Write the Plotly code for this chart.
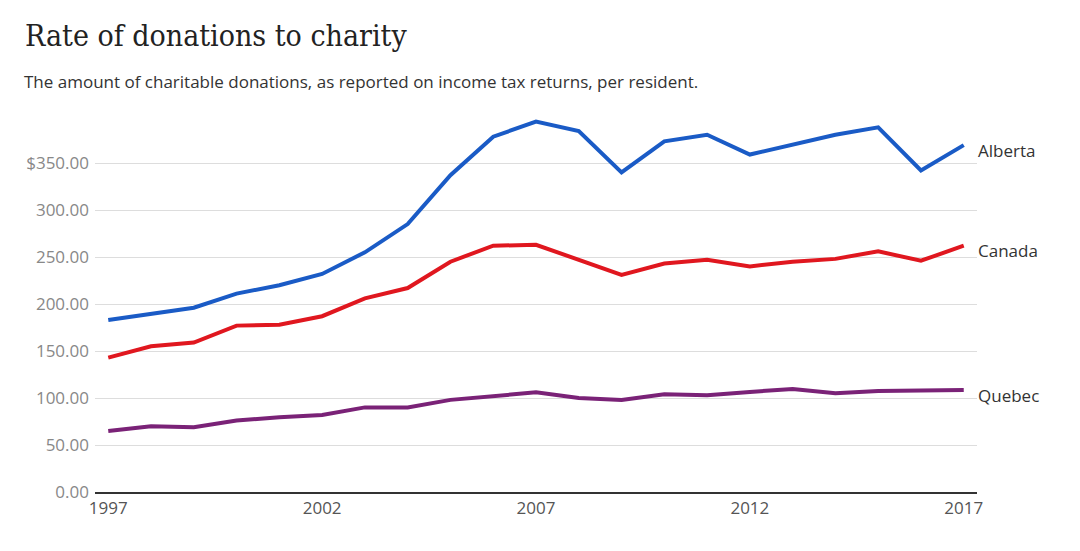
import plotly.graph_objects as go

years = list(range(1997, 2018))
alberta = [183, 190, 196, 211, 220, 232, 255, 285, 337, 378, 394,
           384, 340, 373, 380, 359, 370, 380, 388, 342, 369]
canada = [143, 155, 159, 177, 178, 187, 206, 217, 245, 262, 263,
          247, 231, 243, 247, 240, 245, 248, 256, 246, 262]
quebec = [65, 70, 69, 76, 79.5, 82, 90, 90, 98, 102.5, 106,
          100, 98, 104, 103, 106.5, 109.5, 105, 107.5, 108, 108.5]

series_names = ["Alberta", "Canada", "Quebec"]
series_values = [alberta, canada, quebec]
series_colors = ["#1a5bc6", "#e0171f", "#7a2277"]

y_tickvals = [0, 50, 100, 150, 200, 250, 300, 350]
y_ticktext = ["0.00", "50.00", "100.00", "150.00", "200.00", "250.00", "300.00", "$350.00"]
x_tickvals = [1997, 2002, 2007, 2012, 2017]

W, H = 1080, 551
L, R, T, B = 95, 103, 116, 59
pw, ph = W - L - R, H - T - B

fig = go.Figure()
for name, vals, col in zip(series_names, series_values, series_colors):
    fig.add_trace(go.Scatter(x=years, y=vals, mode="lines", name=name,
                             line=dict(color=col, width=4), hoverinfo="skip"))
    fig.add_annotation(x=years[-1], y=vals[-1], xref="x", yref="y", text=name,
                       showarrow=False, xanchor="left", yanchor="middle",
                       xshift=12, yshift=-5,
                       font=dict(family="Open Sans", size=17, color="#333333"))

fig.add_annotation(xref="paper", yref="paper", x=(23 - L) / pw, y=(H - B - 35.5) / ph,
                   text="Rate of donations to charity", showarrow=False,
                   xanchor="left", yanchor="middle",
                   font=dict(family="DejaVu Serif Condensed, DejaVu Serif", size=30,
                             color="#222222"))
fig.add_annotation(xref="paper", yref="paper", x=(22 - L) / pw, y=(H - B - 81.5) / ph,
                   text="The amount of charitable donations, as reported on income tax returns, per resident.",
                   showarrow=False, xanchor="left", yanchor="middle",
                   font=dict(family="Open Sans", size=17, color="#333333"))

fig.update_layout(
    width=W, height=H,
    margin=dict(l=L, r=R, t=T, b=B, pad=0),
    paper_bgcolor="white", plot_bgcolor="white",
    showlegend=False,
    xaxis=dict(range=[1996.69, 2017.31], tickvals=x_tickvals, ticktext=[str(v) for v in x_tickvals],
               showgrid=False, zeroline=False, showline=True, linecolor="#333333", linewidth=1.5,
               ticks="", tickfont=dict(family="Open Sans", size=17, color="#555555")),
    yaxis=dict(range=[0, 400], tickvals=y_tickvals, ticktext=y_ticktext,
               showgrid=True, gridcolor="#dddddd", gridwidth=1, zeroline=False,
               showline=False, ticks="", ticklabelstandoff=5,
               tickfont=dict(family="Open Sans", size=17, color="#888888")),
)

fig.write_html("out.html", config={"displayModeBar": False},
               post_script="document.body.style.margin='0px';")
